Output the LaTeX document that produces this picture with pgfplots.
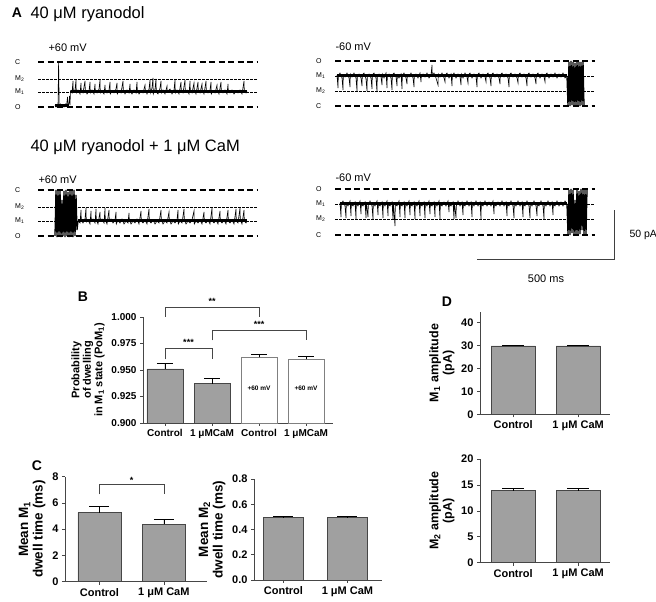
\documentclass[border=0pt]{standalone}
\usepackage{fontspec}
\setmainfont{Liberation Sans}
\usepackage{pgfplots}
\pgfplotsset{compat=1.18}
\definecolor{bargray}{RGB}{160,160,160}
\definecolor{edgegray}{RGB}{70,70,70}
\pgfplotsset{
  barpanel/.style={scale only axis, anchor=south west, clip=false,
    axis x line*=bottom, axis y line*=left,
    axis line style={edgegray, line width=0.6pt},
    tick align=outside, major tick length=3pt,
    tick style={edgegray, line width=0.6pt},
    ymin=0,
    tick label style={font=\bfseries\fontsize{10}{10}\selectfont},
    /pgf/number format/assume math mode=true,
    ylabel style={font=\bfseries\fontsize{12.5}{13.5}\selectfont, align=center},
  },
  gbar/.style={ybar, bar shift=0pt, fill=bargray, draw=edgegray, line width=0.6pt,
    error bars/y dir=plus, error bars/y explicit, error bars/error mark=|,
    error bars/error bar style={black, line width=0.7pt},
    error bars/error mark options={black, mark size=#1, line width=0.8pt}},
  gbar/.default=8pt,
  wbar/.style={gbar=#1, fill=white},
  wbar/.default=8pt,
  brk/.style={edgegray, line width=0.6pt},
  longdash/.style={black, line width=1.1pt, dash pattern=on 6pt off 3.5pt},
  shortdash/.style={black, line width=0.7pt, dash pattern=on 2.5pt off 1.5pt},
  trace/.style={black, line width=0.6pt},
  band/.style={black, line width=3pt},
  burst/.style={black, line width=1.3pt},
}
\newcommand{\lvl}{\fontsize{7}{7}\selectfont}
\newcommand{\mv}{\fontsize{11}{11}\selectfont}
\begin{document}
\begin{tikzpicture}
\path[use as bounding box] (0,0) rectangle (656pt,602pt);

% ---------- panel A: single-channel traces ----------
\begin{axis}[at={(0,0)}, anchor=south west, width=656pt, height=602pt, scale only axis,
  xmin=0, xmax=656, ymin=-602, ymax=0, hide axis, clip=false]

% level lines, +60 mV (top)
\addplot[longdash] coordinates {(38,-62)(258,-62)};
\addplot[shortdash] coordinates {(38,-79)(258,-79)};
\addplot[shortdash] coordinates {(38,-92)(258,-92)};
\addplot[longdash] coordinates {(38,-107)(258,-107)};
% -60 mV (top)
\addplot[longdash] coordinates {(335,-61)(595,-61)};
\addplot[shortdash] coordinates {(335,-76)(595,-76)};
\addplot[shortdash] coordinates {(335,-91)(595,-91)};
\addplot[longdash] coordinates {(335,-106)(595,-106)};
% +60 mV (bottom)
\addplot[longdash] coordinates {(38,-190)(258,-190)};
\addplot[shortdash] coordinates {(38,-207)(258,-207)};
\addplot[shortdash] coordinates {(38,-221)(258,-221)};
\addplot[longdash] coordinates {(38,-236)(258,-236)};
% -60 mV (bottom)
\addplot[longdash] coordinates {(335,-189)(595,-189)};
\addplot[shortdash] coordinates {(335,-204)(595,-204)};
\addplot[shortdash] coordinates {(335,-219)(595,-219)};
\addplot[longdash] coordinates {(335,-235)(595,-235)};

% trace top left
\addplot[band] coordinates {(71,-92)(247,-92)};
\addplot[band] coordinates {(55,-106)(69,-106)};
\addplot[trace] coordinates {(55,-105)(56,-107)(57,-105)(58,-106)(58.6,-62)(59.2,-106)(60.5,-104)(61.5,-107)(63,-105)(64,-107)(65.5,-104)(66.5,-106)(67.5,-97)(68,-106)(69,-103)(69.5,-96)(70,-105)(70.5,-91)
(72,-93)(73,-81)(73.3,-92)(75,-90)(76,-80)(76.3,-93)(78,-90)(80,-94)(81,-83)(81.3,-91)(83,-93)(85,-81)(85.3,-90)(87,-94)(89,-91)(90,-82)(90.3,-93)(92,-90)(94,-94)(95,-84)(95.3,-91)(97,-93)(99,-89)(100,-80)(100.3,-93)(102,-91)(104,-94)(105,-85)(105.3,-90)(107,-93)(109,-90)(110,-82)(110.3,-94)(112,-91)(114,-93)(116,-89)(117,-83)(117.3,-94)(119,-91)(121,-93)(123,-81)(123.3,-90)(125,-94)(127,-90)(129,-93)(130,-84)(130.3,-91)(132,-94)(134,-90)(136,-93)(137,-82)(137.3,-90)(139,-94)(141,-91)(143,-93)(145,-85)(145.3,-90)(147,-94)(149,-89)(150,-80)(150.3,-93)(152,-88)(153,-78)(153.3,-94)(155,-89)(156,-79)(156.3,-92)(158,-94)(160,-88)(161,-81)(161.3,-93)(163,-90)(165,-94)(167,-86)(167.3,-92)(170,-89)(172,-94)(174,-90)(175,-80)(175.3,-93)(177,-90)(179,-94)(181,-82)(181.3,-91)(183,-93)(185,-80)(185.3,-92)(187,-90)(189,-94)(190,-81)(190.3,-91)(192,-93)(194,-83)(194.3,-90)(196,-94)(198,-82)(198.3,-91)(200,-93)(202,-84)(202.3,-90)(204,-94)(206,-81)(206.3,-91)(208,-93)(210,-90)(211,-82)(211.3,-94)(213,-91)(215,-93)(217,-85)(217.3,-90)(219,-94)(221,-82)(221.3,-91)(223,-93)(225,-90)(227,-94)(228,-84)(228.3,-91)(230,-93)(232,-90)(234,-94)(236,-91)(238,-93)(240,-90)(242,-94)(244,-81)(244.3,-91)(246,-93)(247,-91)};

% trace top right
\addplot[band] coordinates {(337,-76)(567,-76)};
\addplot[trace] coordinates {(337,-75)(338,-88)(338.3,-76)(340,-73)(342,-78)(343,-90)(343.3,-75)(345,-77)(347,-73)(349,-78)(350,-87)(350.3,-74)(352,-77)(354,-73)(356,-78)(357,-91)(357.3,-76)(359,-74)(361,-78)(362,-86)(362.3,-75)(364,-73)(366,-79)(367,-91)(367.3,-76)(369,-74)(371,-78)(372,-89)(372.3,-75)(374,-73)(376,-78)(377,-92)(377.3,-76)(379,-74)(381,-77)(382,-85)(382.3,-74)(384,-78)(386,-73)(387,-88)(387.3,-76)(389,-74)(391,-78)(392,-90)(392.3,-75)(394,-73)(396,-77)(397,-86)(397.3,-75)(399,-78)(401,-74)(402,-89)(402.3,-76)(404,-73)(406,-78)(407,-84)(407.3,-75)(409,-77)(411,-73)(413,-78)(414,-87)(414.3,-75)(416,-74)(418,-78)(420,-73)(421,-82)(421.3,-76)(423,-74)(425,-77)(427,-73)(429,-78)(431,-75)(432,-65)(432.3,-76)(434,-73)(436,-78)(438,-85)(438.3,-74)(440,-77)(442,-73)(444,-78)(445,-82)(445.3,-75)(447,-73)(449,-78)(451,-74)(452,-86)(452.3,-76)(454,-73)(456,-78)(458,-74)(460,-77)(461,-85)(461.3,-74)(463,-78)(465,-73)(467,-77)(468,-83)(468.3,-75)(470,-73)(472,-78)(474,-74)(476,-77)(477,-87)(477.3,-75)(479,-73)(481,-78)(483,-74)(485,-77)(486,-82)(486.3,-75)(488,-73)(490,-78)(491,-86)(491.3,-75)(493,-73)(495,-77)(497,-74)(499,-78)(500,-84)(500.3,-75)(502,-73)(504,-77)(506,-74)(508,-78)(509,-87)(509.3,-75)(511,-73)(513,-77)(515,-74)(517,-78)(518,-83)(518.3,-75)(520,-73)(522,-77)(524,-74)(526,-78)(527,-86)(527.3,-75)(529,-73)(531,-77)(533,-74)(535,-78)(536,-84)(536.3,-75)(538,-73)(540,-78)(542,-74)(544,-77)(545,-82)(545.3,-75)(547,-73)(549,-78)(551,-74)(553,-77)(555,-73)(557,-78)(559,-74)(561,-77)(563,-73)(565,-78)(567,-76)};
\addplot[burst] coordinates {(567,-76)(568,-106)(569,-62)(570,-106)(571,-61)(572,-105)(573,-62)(574,-106)(575,-63)(576,-106)(577,-61)(578,-105)(579,-62)(580,-106)(581,-62)(582,-105)(583,-61)(584,-106)};

% trace bottom left
\addplot[band] coordinates {(78,-221)(247,-221)};
\addplot[burst] coordinates {(55,-236)(56,-190)(57,-237)(58,-191)(59,-236)(60,-190)(61,-237)(62,-200)(63,-236)(64,-191)(65,-237)(66,-190)(67,-236)(68,-192)(69,-237)(70,-190)(71,-236)(72,-191)(73,-237)(74,-190)(75,-236)(76,-195)(77,-230)(78,-221)};
\addplot[trace] coordinates {(78,-221)(80,-223)(81,-210)(81.3,-220)(83,-223)(85,-219)(86,-208)(86.3,-222)(88,-220)(90,-224)(91,-211)(91.3,-221)(93,-219)(95,-223)(96,-209)(96.3,-220)(98,-224)(100,-212)(100.3,-221)(102,-219)(104,-223)(105,-208)(105.3,-220)(107,-224)(109,-210)(109.3,-221)(111,-219)(113,-223)(115,-220)(116,-212)(116.3,-224)(118,-220)(120,-223)(122,-219)(124,-224)(126,-221)(128,-223)(129,-213)(129.3,-220)(131,-224)(133,-221)(135,-223)(137,-219)(139,-224)(141,-211)(141.3,-221)(143,-223)(145,-220)(147,-224)(149,-209)(149.3,-221)(151,-223)(153,-220)(155,-224)(157,-221)(159,-223)(161,-210)(161.3,-220)(163,-224)(165,-221)(167,-223)(169,-212)(169.3,-220)(171,-224)(173,-221)(175,-223)(177,-220)(178,-210)(178.3,-224)(180,-221)(182,-223)(184,-209)(184.3,-220)(186,-224)(188,-221)(190,-223)(192,-220)(194,-211)(194.3,-224)(196,-221)(198,-223)(200,-220)(202,-224)(204,-212)(204.3,-221)(206,-223)(208,-220)(210,-224)(212,-208)(212.3,-221)(214,-223)(216,-220)(218,-224)(220,-211)(220.3,-221)(222,-223)(224,-220)(226,-224)(228,-210)(228.3,-221)(230,-223)(232,-220)(234,-224)(236,-209)(236.3,-221)(238,-223)(240,-208)(240.3,-220)(242,-224)(244,-210)(244.3,-221)(246,-223)(247,-221)};

% trace bottom right
\addplot[band] coordinates {(340,-204)(567,-204)};
\addplot[trace] coordinates {(340,-203)(341,-217)(341.3,-204)(343,-201)(345,-206)(346,-218)(346.3,-203)(348,-206)(350,-201)(351,-216)(351.3,-204)(353,-206)(355,-202)(356,-219)(356.3,-203)(358,-206)(360,-201)(361,-214)(361.3,-204)(363,-206)(365,-202)(366,-218)(366.3,-203)(368,-217)(368.3,-205)(370,-201)(372,-206)(373,-219)(373.3,-203)(375,-206)(377,-201)(378,-215)(378.3,-204)(380,-206)(382,-202)(383,-218)(383.3,-203)(385,-206)(387,-201)(388,-216)(388.3,-204)(390,-206)(392,-202)(393,-219)(393.3,-203)(395,-226)(395.3,-204)(397,-206)(399,-201)(400,-217)(400.3,-204)(402,-206)(404,-202)(405,-218)(405.3,-203)(407,-206)(409,-201)(410,-215)(410.3,-204)(412,-206)(414,-202)(415,-219)(415.3,-203)(417,-206)(419,-201)(420,-216)(420.3,-204)(422,-206)(424,-202)(425,-218)(425.3,-203)(427,-206)(429,-201)(430,-214)(430.3,-204)(432,-206)(434,-202)(435,-217)(435.3,-203)(437,-206)(439,-201)(440,-219)(440.3,-204)(442,-206)(444,-202)(446,-206)(448,-201)(449,-212)(449.3,-204)(451,-206)(453,-202)(454,-219)(454.3,-203)(456,-218)(456.3,-206)(458,-201)(460,-206)(462,-202)(463,-215)(463.3,-204)(465,-206)(467,-201)(469,-206)(471,-202)(472,-217)(472.3,-203)(474,-206)(476,-201)(478,-206)(480,-202)(481,-219)(481.3,-204)(483,-206)(485,-201)(487,-206)(489,-202)(491,-206)(493,-201)(494,-214)(494.3,-204)(496,-206)(498,-202)(500,-206)(502,-201)(504,-206)(506,-202)(507,-216)(507.3,-204)(509,-206)(511,-201)(513,-206)(514,-218)(514.3,-203)(516,-206)(518,-201)(520,-206)(522,-202)(523,-217)(523.3,-204)(525,-206)(527,-201)(529,-206)(530,-218)(530.3,-203)(532,-206)(534,-201)(536,-206)(537,-216)(537.3,-204)(539,-206)(541,-201)(543,-206)(544,-219)(544.3,-203)(546,-206)(548,-201)(550,-206)(552,-202)(553,-215)(553.3,-204)(555,-206)(557,-201)(559,-206)(561,-202)(563,-206)(565,-201)(567,-204)};
\addplot[burst] coordinates {(567,-204)(568,-234)(569,-190)(570,-235)(571,-189)(572,-233)(573,-190)(574,-235)(575,-200)(576,-234)(577,-189)(578,-235)(579,-191)(580,-234)(581,-189)(582,-230)(583,-190)(584,-235)(585,-190)(586,-234)(587,-190)};

% scale bar
\addplot[black!75, line width=0.7pt] coordinates {(477,-259)(614,-259)(614,-210)};

% texts
\node[anchor=center, font=\bfseries\fontsize{14}{14}\selectfont] at (axis cs:17,-13) {A};
\node[anchor=west, font=\fontsize{16.5}{16.5}\selectfont] at (axis cs:27,-14) {40 μM ryanodol};
\node[anchor=west, font=\fontsize{16.5}{16.5}\selectfont] at (axis cs:27,-147) {40 μM ryanodol + 1 μM CaM};
\node[anchor=west, font=\mv] at (axis cs:45,-48) {+60 mV};
\node[anchor=west, font=\mv] at (axis cs:332,-47) {-60 mV};
\node[anchor=west, font=\mv] at (axis cs:35,-180) {+60 mV};
\node[anchor=west, font=\mv] at (axis cs:332,-178) {-60 mV};
\node[anchor=west, font=\fontsize{10.5}{10.5}\selectfont] at (axis cs:626,-235) {50 pA};
\node[anchor=center, font=\fontsize{11}{11}\selectfont] at (axis cs:546,-279) {500 ms};
% level labels
\node[anchor=west, font=\lvl, inner sep=0pt] at (axis cs:15,-62) {C};
\node[anchor=west, font=\lvl, inner sep=0pt] at (axis cs:15,-79) {M\textsubscript{2}};
\node[anchor=west, font=\lvl, inner sep=0pt] at (axis cs:15,-92) {M\textsubscript{1}};
\node[anchor=west, font=\lvl, inner sep=0pt] at (axis cs:15,-107) {O};
\node[anchor=west, font=\lvl, inner sep=0pt] at (axis cs:15,-190) {C};
\node[anchor=west, font=\lvl, inner sep=0pt] at (axis cs:15,-207) {M\textsubscript{2}};
\node[anchor=west, font=\lvl, inner sep=0pt] at (axis cs:15,-221) {M\textsubscript{1}};
\node[anchor=west, font=\lvl, inner sep=0pt] at (axis cs:15,-236) {O};
\node[anchor=west, font=\lvl, inner sep=0pt] at (axis cs:316,-61) {O};
\node[anchor=west, font=\lvl, inner sep=0pt] at (axis cs:316,-76) {M\textsubscript{1}};
\node[anchor=west, font=\lvl, inner sep=0pt] at (axis cs:316,-91) {M\textsubscript{2}};
\node[anchor=west, font=\lvl, inner sep=0pt] at (axis cs:316,-106) {C};
\node[anchor=west, font=\lvl, inner sep=0pt] at (axis cs:316,-189) {O};
\node[anchor=west, font=\lvl, inner sep=0pt] at (axis cs:316,-204) {M\textsubscript{1}};
\node[anchor=west, font=\lvl, inner sep=0pt] at (axis cs:316,-219) {M\textsubscript{2}};
\node[anchor=west, font=\lvl, inner sep=0pt] at (axis cs:316,-235) {C};
% panel letters
\node[font=\bfseries\fontsize{14}{14}\selectfont] at (axis cs:83,-297) {B};
\node[font=\bfseries\fontsize{14}{14}\selectfont] at (axis cs:37,-466) {C};
\node[font=\bfseries\fontsize{14}{14}\selectfont] at (axis cs:447,-302) {D};
\end{axis}

% ---------- panel B ----------
\begin{axis}[barpanel, at={(143pt,179pt)}, width=190pt, height=106pt,
  xmin=-0.468, xmax=3.574, ymin=0.9, ymax=1.0, bar width=0.766,
  xtick={0,1,2,3}, xticklabels={Control,1 μMCaM,Control,1 μMCaM},
  ytick={0.9,0.925,0.95,0.975,1.0},
  yticklabel style={/pgf/number format/.cd, fixed, fixed zerofill, precision=3},
  ylabel={Probability\\of dwelling\\in M\textsubscript{1} state (PoM\textsubscript{1})},
  ylabel style={font=\bfseries\fontsize{11}{11.5}\selectfont}]
\addplot[gbar] coordinates {(0,0.951) +- (0,0.005) (1,0.937) +- (0,0.0055)};
\addplot[wbar, draw=gray] coordinates {(2,0.962) +- (0,0.003) (3,0.960) +- (0,0.003)};
\addplot[brk] coordinates {(0,1.000)(0,1.0094)(2,1.0094)(2,1.000)};
\addplot[brk] coordinates {(1,0.978)(1,0.9877)(3,0.9877)(3,0.978)};
\addplot[brk] coordinates {(0,0.960)(0,0.9708)(1,0.9708)(1,0.960)};
\node[font=\bfseries\fontsize{9}{9}\selectfont] at (axis cs:1,1.0145) {**};
\node[font=\bfseries\fontsize{9}{9}\selectfont] at (axis cs:2,0.993) {***};
\node[font=\bfseries\fontsize{9}{9}\selectfont] at (axis cs:0.5,0.976) {***};
\node[font=\bfseries\fontsize{6.5}{6.5}\selectfont] at (axis cs:2,0.933) {+60 mV};
\node[font=\bfseries\fontsize{6.5}{6.5}\selectfont] at (axis cs:3,0.933) {+60 mV};
\end{axis}

% ---------- panel C, left ----------
\begin{axis}[barpanel, at={(65pt,20.3pt)}, width=142pt, height=105pt,
  xmin=-0.535, xmax=1.67, ymax=8, bar width=0.667,
  xtick={0,1}, xticklabels={Control,1 μM CaM},
  ytick={0,2,4,6,8},
  tick label style={font=\bfseries\fontsize{11}{11}\selectfont},
  ylabel={Mean M\textsubscript{1}\\dwell time (ms)},
  ylabel style={font=\bfseries\fontsize{13.5}{14.5}\selectfont}]
\addplot[gbar=10pt] coordinates {(0,5.26) +- (0,0.50) (1,4.37) +- (0,0.38)};
\addplot[brk] coordinates {(0,6.65)(0,7.41)(1,7.41)(1,6.65)};
\node[font=\bfseries\fontsize{9}{9}\selectfont] at (axis cs:0.5,7.75) {*};
\end{axis}

% ---------- panel C, right ----------
\begin{axis}[barpanel, at={(254pt,22pt)}, width=128pt, height=101pt,
  xmin=-0.46, xmax=1.54, ymax=0.8, bar width=0.63,
  xtick={0,1}, xticklabels={Control,1 μM CaM},
  ytick={0,0.2,0.4,0.6,0.8},
  yticklabel style={/pgf/number format/.cd, fixed, fixed zerofill, precision=1},
  tick label style={font=\bfseries\fontsize{11}{11}\selectfont},
  ylabel={Mean M\textsubscript{2}\\dwell time (ms)},
  ylabel style={font=\bfseries\fontsize{13.5}{14.5}\selectfont}]
\addplot[gbar=10pt] coordinates {(0,0.498) +- (0,0.004) (1,0.498) +- (0,0.004)};
\end{axis}

% ---------- panel D, top ----------
\begin{axis}[barpanel, at={(480pt,187.7pt)}, width=130pt, height=102.6pt,
  xmin=-0.51, xmax=1.49, ymax=44.6, bar width=0.68,
  xtick={0,1}, xticklabels={Control,1 μM CaM},
  ytick={0,10,20,30,40},
  tick label style={font=\bfseries\fontsize{11}{11}\selectfont},
  ylabel={M\textsubscript{1} amplitude\\(pA)}]
\addplot[gbar=11pt] coordinates {(0,29.7) +- (0,0.3) (1,29.7) +- (0,0.3)};
\end{axis}

% ---------- panel D, bottom ----------
\begin{axis}[barpanel, at={(480pt,39.3pt)}, width=130pt, height=103.7pt,
  xmin=-0.51, xmax=1.49, ymax=20, bar width=0.68,
  xtick={0,1}, xticklabels={Control,1 μM CaM},
  ytick={0,5,10,15,20},
  tick label style={font=\bfseries\fontsize{11}{11}\selectfont},
  ylabel={M\textsubscript{2} amplitude\\(pA)}]
\addplot[gbar=11pt] coordinates {(0,13.9) +- (0,0.4) (1,13.9) +- (0,0.4)};
\end{axis}
\end{tikzpicture}
\end{document}
